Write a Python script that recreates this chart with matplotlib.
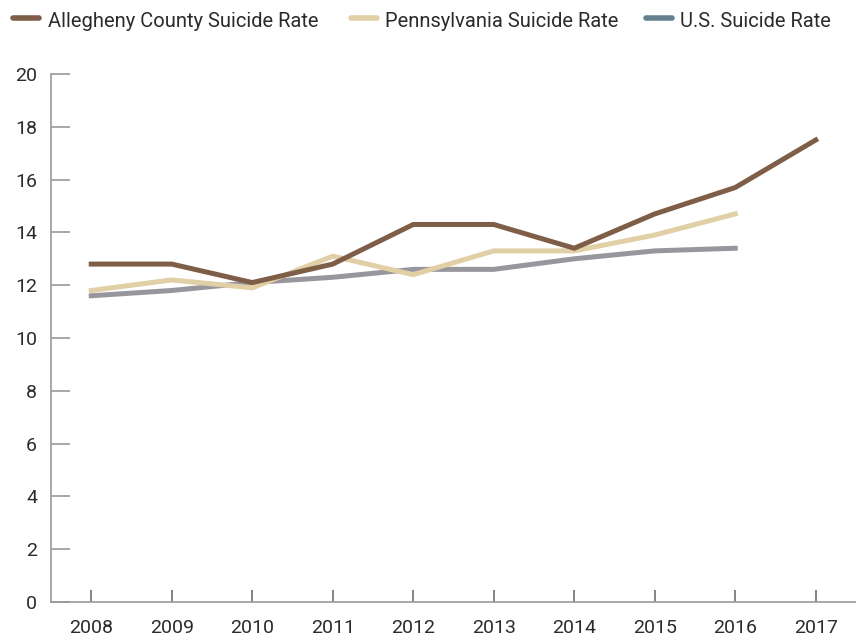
import matplotlib.pyplot as plt
from matplotlib.lines import Line2D

plt.rcParams['font.family'] = ['Roboto', 'DejaVu Sans']

years = [2008, 2009, 2010, 2011, 2012, 2013, 2014, 2015, 2016, 2017]
allegheny = [12.8, 12.8, 12.1, 12.8, 14.3, 14.3, 13.4, 14.7, 15.7, 17.5]
pennsylvania = [11.8, 12.2, 11.9, 13.1, 12.4, 13.3, 13.3, 13.9, 14.7]
us = [11.6, 11.8, 12.1, 12.3, 12.6, 12.6, 13.0, 13.3, 13.4]
yticks = [0, 2, 4, 6, 8, 10, 12, 14, 16, 18, 20]
labels = ['Allegheny County Suicide Rate', 'Pennsylvania Suicide Rate', 'U.S. Suicide Rate']

brown = '#7e5e47'
tan = '#e1cfa6'
gray = '#97969d'
legend_blue = '#67808f'

W, H = 856, 640
fig = plt.figure(figsize=(W / 100, H / 100), dpi=100)
ax = fig.add_axes([51 / W, 38 / H, 1 - 51 / W, 528 / H])

ax.plot(years[:len(us)], us, color=gray, lw=3.6, solid_joinstyle='miter')
ax.plot(years[:len(pennsylvania)], pennsylvania, color=tan, lw=3.6, solid_joinstyle='miter')
ax.plot(years, allegheny, color=brown, lw=3.6, solid_joinstyle='miter')

ax.set_xlim(2007.5, 2017.5)
ax.set_ylim(0, 20)
ax.set_xticks(years)
ax.set_yticks(yticks)

for s in ['top', 'right']:
    ax.spines[s].set_visible(False)
for s in ['left', 'bottom']:
    ax.spines[s].set_color('#9a9a9a')
    ax.spines[s].set_linewidth(1.2)

ax.tick_params(axis='y', direction='in', length=14, width=1.2, color='#9a9a9a',
               labelsize=14, labelcolor='#2b2b2b', pad=10)
ax.tick_params(axis='x', direction='in', length=9, width=1.2, color='#6e6e6e',
               labelsize=14, labelcolor='#2b2b2b', pad=12)

# legend drawn by hand so the entries sit where the reference has them
swatch_x = [10, 348, 643]
text_x = [48, 385, 680]
for sx, tx, c, lab in zip(swatch_x, text_x, [brown, tan, legend_blue], labels):
    fig.add_artist(Line2D([(sx + 3) / W, (sx + 29) / W], [1 - 18 / H, 1 - 18 / H],
                          transform=fig.transFigure, color=c, lw=4,
                          solid_capstyle='round'))
    fig.text(tx / W, 1 - 27 / H, lab, fontsize=14.5, color='#2b2b2b',
             ha='left', va='baseline')

fig.savefig('out.png', dpi=100)
